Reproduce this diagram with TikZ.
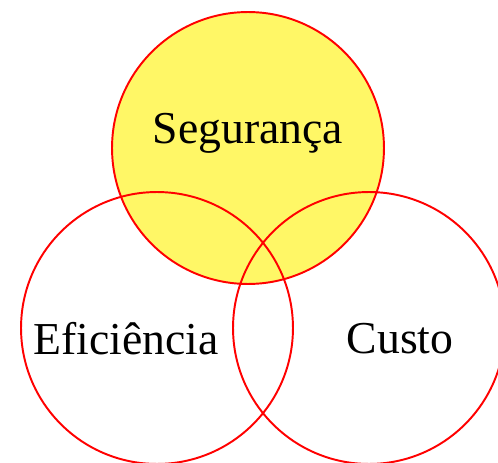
\documentclass[tikz,border=0pt]{standalone}
\usepackage{fontspec}
\setmainfont{Liberation Serif}
\usetikzlibrary{positioning}

\begin{document}
\begin{tikzpicture}[x=0.02cm, y=-0.02cm,
    % Styles
    pillar/.style={circle, draw=red, line width=1.1pt, minimum size=5.44cm, inner sep=0pt},
    focus/.style={pillar, fill=yellow!60},
    word/.style={font=\fontsize{26}{30}\selectfont, anchor=base, inner sep=0pt},
]

% Frame of the picture
\clip (0, 0) rectangle (498, 463);

% Top circle
\node[focus] (seguranca) at (248, 148) {};

% Bottom circles
\node[pillar] (eficiencia) at (157, 328) {};
\node[pillar] (custo) at (369, 328) {};

% Labels
\node[word] (lseg) at (248, 143) {Segurança};
\node[word] (lefi) at (126, 355) {Eficiência};
\node[word] (lcus) at (400, 354) {Custo};

\end{tikzpicture}
\end{document}
